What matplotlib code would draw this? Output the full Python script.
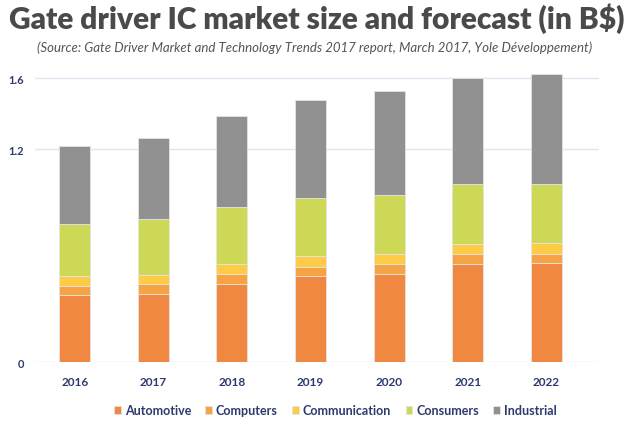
import numpy as np
import matplotlib
matplotlib.use("Agg")
import matplotlib.pyplot as plt

# values (B$)
years = ["2016", "2017", "2018", "2019", "2020", "2021", "2022"]
automotive = [0.379, 0.385, 0.443, 0.486, 0.497, 0.556, 0.558]
computers = [0.053, 0.054, 0.056, 0.053, 0.055, 0.054, 0.052]
communication = [0.053, 0.053, 0.055, 0.058, 0.058, 0.056, 0.060]
consumers = [0.296, 0.315, 0.323, 0.329, 0.334, 0.338, 0.336]
industrial = [0.436, 0.459, 0.511, 0.552, 0.586, 0.599, 0.616]

series = [
    ("Automotive", automotive, "#F08841"),
    ("Computers", computers, "#F5A344"),
    ("Communication", communication, "#FDCB45"),
    ("Consumers", consumers, "#CDD857"),
    ("Industrial", industrial, "#929191"),
]

navy = "#2E3A6E"
plt.rcParams["font.family"] = ["Lato", "DejaVu Sans"]

fig = plt.figure(figsize=(6.29, 4.27), dpi=100)
ax = fig.add_axes([35 / 629, 0.149, 564 / 629, 0.707])

x = np.arange(len(years))
bottom = np.zeros(len(years))
handles = []
for name, vals, col in series:
    b = ax.bar(x, vals, 0.395, bottom=bottom, color=col, edgecolor="#e4e4e4",
               linewidth=0.6, label=name, zorder=3)
    handles.append(b)
    bottom += np.array(vals)

ax.set_xlim(-0.505, 6.67)
ax.set_ylim(0, 1.7)
ax.set_yticks([0, 1.2, 1.6])
ax.set_yticklabels(["0", "1.2", "1.6"])
ax.grid(axis="y", color="#E3E3F3", linewidth=1, zorder=0)
for s in ax.spines.values():
    s.set_visible(False)
ax.tick_params(axis="y", length=0, pad=8, labelsize=8, labelcolor=navy)
ax.tick_params(axis="x", length=0, pad=10, labelsize=8.5, labelcolor=navy)
ax.set_xticks(x)
ax.set_xticklabels(years, fontweight="bold")
for t in ax.get_yticklabels():
    t.set_fontweight("bold")

fig.text(0.503, 0.955, "Gate driver IC market size and forecast (in B$)",
         ha="center", va="center", fontsize=21.5, fontweight="heavy", color="#4A4A4A")
fig.text(0.5, 0.888, "(Source: Gate Driver Market and Technology Trends 2017 report, "
         "March 2017, Yole Développement)",
         ha="center", va="center", fontsize=9.5, style="italic", color="#555555")

fig.legend(handles=handles, labels=[s[0] for s in series], loc="center",
           bbox_to_anchor=(0.533, 0.037), ncol=5, frameon=False,
           handlelength=0.55, handleheight=0.55, handletextpad=0.3,
           columnspacing=1.15, prop={"weight": "bold", "size": 9},
           labelcolor=navy)

fig.savefig("out.png", dpi=100)
